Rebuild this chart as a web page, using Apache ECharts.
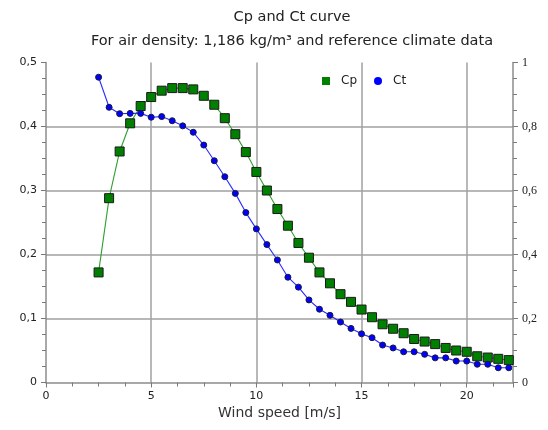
<!DOCTYPE html>
<html>
<head>
<meta charset="utf-8">
<script src="https://cdn.jsdelivr.net/npm/echarts@6/dist/echarts.min.js"></script>
<style>html,body{margin:0;padding:0;background:#fff}#c{width:548px;height:430px}</style>
</head>
<body>
<div id="c"></div>
<script>
const windSpeed = [2.5,3,3.5,4,4.5,5,5.5,6,6.5,7,7.5,8,8.5,9,9.5,10,10.5,11,11.5,12,12.5,13,13.5,14,14.5,15,15.5,16,16.5,17,17.5,18,18.5,19,19.5,20,20.5,21,21.5,22];
const cpValues = [0.172,0.288,0.361,0.405,0.432,0.446,0.456,0.46,0.46,0.458,0.448,0.434,0.413,0.388,0.36,0.329,0.3,0.271,0.245,0.218,0.195,0.172,0.155,0.138,0.126,0.114,0.102,0.091,0.084,0.077,0.068,0.064,0.06,0.054,0.05,0.048,0.041,0.039,0.037,0.035];
const ctValues = [0.954,0.86,0.84,0.841,0.841,0.829,0.831,0.818,0.802,0.782,0.742,0.693,0.643,0.591,0.531,0.48,0.431,0.383,0.329,0.298,0.258,0.229,0.21,0.189,0.169,0.152,0.14,0.117,0.108,0.096,0.096,0.088,0.077,0.077,0.067,0.067,0.057,0.057,0.046,0.046];
const titleText = 'Cp and Ct curve';
const subtitleText = 'For air density: 1,186 kg/m³ and reference climate data';
const xAxisName = 'Wind speed [m/s]';

const chart = echarts.init(document.getElementById('c'), null, {renderer: 'canvas'});
const comma = v => String(+v.toFixed(2)).replace('.', ',');
const axisGray = '#8c8c8c';
const tickGray = '#7a7a7a';
chart.setOption({
  animation: false,
  backgroundColor: '#fff',
  title: [
    {text: titleText, left: 287, top: 5, textAlign: 'center',
     textStyle: {fontFamily: 'DejaVu Sans', fontSize: 14.5, fontWeight: 'normal', color: '#222'}},
    {text: subtitleText, left: 287, top: 29, textAlign: 'center',
     textStyle: {fontFamily: 'DejaVu Sans', fontSize: 14.5, fontWeight: 'normal', color: '#222'}}
  ],
  legend: {
    left: 317, top: 70, itemGap: 17, itemWidth: 8, itemHeight: 8,
    textStyle: {fontFamily: 'DejaVu Sans', fontSize: 12, color: '#222', padding: [0,0,0,6]},
    data: [
      {name: 'Cp', icon: 'rect', itemStyle: {color: '#008000', borderWidth: 0}},
      {name: 'Ct', icon: 'circle', itemStyle: {color: '#0000ff', borderWidth: 0}}
    ]
  },
  grid: {left: 46, right: 35, top: 62.5, bottom: 47.5},
  xAxis: {
    type: 'value', min: 0, max: 22.2, interval: 5,
    name: xAxisName, nameLocation: 'middle', nameGap: 23,
    nameTextStyle: {fontFamily: 'DejaVu Sans', fontSize: 14, color: '#333'},
    axisLine: {show: true, lineStyle: {color: axisGray, width: 1.5}},
    axisTick: {show: true, length: 5, lineStyle: {color: tickGray}},
    minorTick: {show: true, splitNumber: 4, length: 4, lineStyle: {color: tickGray}},
    axisLabel: {margin: 8, fontFamily: 'DejaVu Sans', fontSize: 11, color: '#222', showMaxLabel: false,
      formatter: v => (v % 5 === 0 ? comma(v) : '')},
    splitLine: {show: true, showMinLine: false, showMaxLine: false, lineStyle: {color: '#a0a0a0', width: 1.5}}
  },
  yAxis: [
    {
      type: 'value', min: 0, max: 0.5, interval: 0.1, position: 'left',
      axisLine: {show: true, lineStyle: {color: axisGray, width: 1.5}},
      axisTick: {show: true, length: 5, lineStyle: {color: tickGray}},
      minorTick: {show: true, splitNumber: 4, length: 4, lineStyle: {color: tickGray}},
      axisLabel: {margin: 9, fontFamily: 'DejaVu Sans', fontSize: 11, color: '#222', formatter: comma},
      splitLine: {show: true, showMinLine: false, showMaxLine: false, lineStyle: {color: '#a0a0a0', width: 1.5}}
    },
    {
      type: 'value', min: 0, max: 1, interval: 0.2, position: 'right',
      axisLine: {show: true, lineStyle: {color: axisGray, width: 1.5}},
      axisTick: {show: true, length: 5, lineStyle: {color: tickGray}},
      minorTick: {show: true, splitNumber: 4, length: 4, lineStyle: {color: tickGray}},
      axisLabel: {margin: 9, fontFamily: 'Liberation Serif', fontSize: 12, color: '#222', formatter: comma},
      splitLine: {show: false}
    }
  ],
  series: [
    {
      name: 'Cp', type: 'line', yAxisIndex: 0,
      data: windSpeed.map((w, i) => [w, cpValues[i]]),
      symbol: 'rect', symbolSize: 9,
      lineStyle: {color: '#2ea02e', width: 1.1},
      itemStyle: {color: '#008000', borderColor: '#1a1a1a', borderWidth: 1},
      z: 3
    },
    {
      name: 'Ct', type: 'line', yAxisIndex: 1,
      data: windSpeed.map((w, i) => [w, ctValues[i]]),
      symbol: 'circle', symbolSize: 6,
      lineStyle: {color: '#2b2bff', width: 1.1},
      itemStyle: {color: '#0000ff', borderColor: '#1a1a40', borderWidth: 1},
      z: 4
    }
  ]
});
</script>
</body>
</html>
